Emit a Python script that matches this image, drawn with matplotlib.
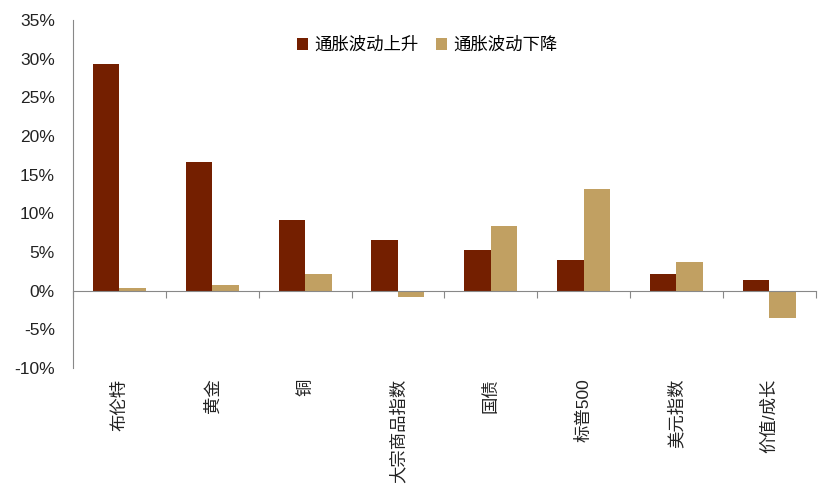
import matplotlib.pyplot as plt
import matplotlib.transforms as mtransforms
import numpy as np

# フォント指定（英数字はLiberation Sans、漢字はNoto Sans CJK SC）
plt.rcParams["font.family"] = ["Liberation Sans", "Noto Sans CJK SC", "DejaVu Sans"]

categories = ["布伦特", "黄金", "铜", "大宗商品指数", "国债", "标普500", "美元指数", "价值/成长"]
series_names = ["通胀波动上升", "通胀波动下降"]
rise_values = [29.3, 16.7, 9.2, 6.5, 5.2, 4.0, 2.2, 1.4]
fall_values = [0.3, 0.7, 2.2, -0.8, 8.4, 13.2, 3.7, -3.6]
y_ticks = [-10, -5, 0, 5, 10, 15, 20, 25, 30, 35]

rise_color = "#741F00"
fall_color = "#C1A062"

fig = plt.figure(figsize=(8.35, 5.01), dpi=100)
ax = fig.add_axes([0.0874, 0.2655, 0.8895, 0.6945])

x = np.arange(len(categories))
w = 0.285
ax.bar(x - w / 2, rise_values, width=w, color=rise_color, label=series_names[0])
ax.bar(x + w / 2, fall_values, width=w, color=fall_color, label=series_names[1])

ax.set_xlim(-0.5, len(categories) - 0.5)
ax.set_ylim(-10, 35)
ax.set_yticks(y_ticks)
ax.set_yticklabels([f"{v}%" for v in y_ticks], fontsize=12.5, color="#222222")
ax.tick_params(axis="y", length=0, pad=13)

# x軸は0の位置に、目盛りはカテゴリの境界に
ax.spines["bottom"].set_position(("data", 0))
ax.spines["bottom"].set_color("#888888")
ax.spines["left"].set_color("#888888")
ax.spines["top"].set_visible(False)
ax.spines["right"].set_visible(False)
ax.set_xticks(np.arange(len(categories) + 1) - 0.5)
ax.set_xticklabels([])
ax.tick_params(axis="x", direction="out", length=5, color="#888888")

# カテゴリラベル（90度回転）
trans = mtransforms.blended_transform_factory(ax.transData, ax.transAxes)
for xi, name in zip(x, categories):
    ax.text(xi, -0.03, name, transform=trans, rotation=90, ha="center", va="top",
            fontsize=12.5, color="#222222")

ax.legend(loc="upper left", bbox_to_anchor=(0.337, 0.958), bbox_transform=fig.transFigure,
          ncol=2, frameon=False, fontsize=12.5, handlelength=0.65, handleheight=0.65,
          handletextpad=0.35, columnspacing=1.0)

fig.savefig("out.png", dpi=100)
plt.close(fig)
